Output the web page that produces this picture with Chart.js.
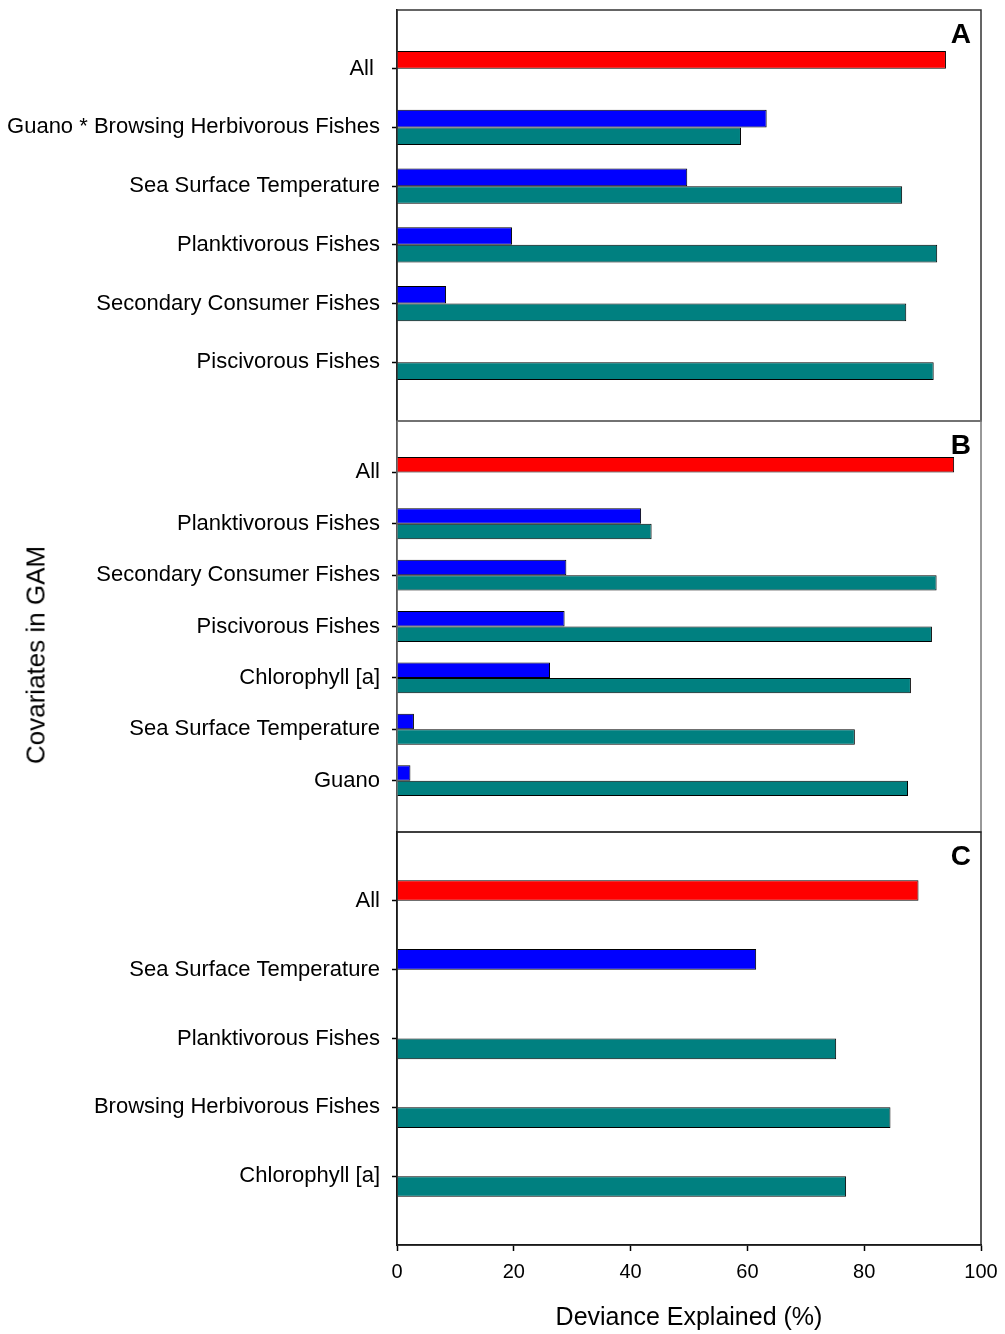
<!DOCTYPE html>
<html>
<head>
<meta charset="utf-8">
<title>Deviance explained by GAM covariates</title>
<script src="https://cdn.jsdelivr.net/npm/chart.js@4.4.1/dist/chart.umd.min.js"></script>
<style>
  html, body { margin: 0; padding: 0; background: #ffffff; }
  #wrap { position: relative; width: 1005px; height: 1334px; overflow: hidden; background: #fff; }
  #wrap canvas { position: absolute; left: 0; }
  #ytitle {
    position: absolute; left: 36px; top: 655px;
    transform: translate(-50%, -50%) rotate(-90deg);
    white-space: nowrap;
    font-family: "Liberation Sans", Arial, sans-serif;
    font-size: 26px; color: #000;
  }
</style>
</head>
<body>
<div id="wrap">
  <canvas id="panelA" width="1005" height="430" style="top:0px"></canvas>
  <canvas id="panelB" width="1005" height="430" style="top:411px"></canvas>
  <canvas id="panelC" width="1005" height="512" style="top:822px"></canvas>
  <div id="ytitle">Covariates in GAM</div>
</div>
<script>
// Panel A
const catsA = ['All ', 'Guano * Browsing Herbivorous Fishes', 'Sea Surface Temperature',
               'Planktivorous Fishes', 'Secondary Consumer Fishes', 'Piscivorous Fishes'];
const aloneA   = [94.0, 63.3, 49.7, 19.7, 8.4, null];
const droppedA = [null, 58.9, 86.5, 92.5, 87.2, 91.9];

// Panel B
const catsB = ['All', 'Planktivorous Fishes', 'Secondary Consumer Fishes', 'Piscivorous Fishes',
               'Chlorophyll [a]', 'Sea Surface Temperature', 'Guano'];
const aloneB   = [95.4, 41.8, 29.0, 28.7, 26.2, 2.9, 2.3];
const droppedB = [null, 43.6, 92.4, 91.6, 88.0, 78.4, 87.5];

// Panel C
const catsC = ['All', 'Sea Surface Temperature', 'Planktivorous Fishes',
               'Browsing Herbivorous Fishes', 'Chlorophyll [a]'];
const aloneC   = [89.3, 61.5, null, null, null];
const droppedC = [null, null, 75.2, 84.5, 76.9];

const xTicks = [0, 20, 40, 60, 80, 100];
const xTitle = 'Deviance Explained (%)';

const RED = '#ff0000', BLUE = '#0000ff', TEAL = '#008080';
const FONT = '"Liberation Sans", Arial, sans-serif';

Chart.defaults.color = '#000';
Chart.defaults.font.family = FONT;

// Box round the plot area plus the panel letter in its top-right corner
const panelFrame = {
  id: 'panelFrame',
  afterDraw(chart, args, opts) {
    const { ctx, chartArea: { left, top, right, bottom } } = chart;
    ctx.save();
    ctx.strokeStyle = opts.color;
    ctx.lineWidth = 1.5;
    ctx.strokeRect(left, top, right - left, bottom - top);
    ctx.fillStyle = '#000';
    ctx.font = 'bold 28px ' + FONT;
    ctx.textAlign = 'right';
    ctx.textBaseline = 'top';
    ctx.fillText(opts.letter, right - 10, top + 11);
    ctx.restore();
  }
};

// blank slots at both ends leave a full category of space above and below
function pad(arr, fill) { return [fill, ...arr, fill]; }

function makePanel(id, cats, alone, dropped, letter, frameColor, withXAxis) {
  const labels = pad(cats, '');
  const aloneColors = pad(cats.map((c, i) => i === 0 ? RED : BLUE), BLUE);
  return new Chart(document.getElementById(id), {
    type: 'bar',
    data: {
      labels,
      datasets: [
        { data: pad(alone, null), backgroundColor: aloneColors, borderColor: '#000', borderWidth: 1 },
        { data: pad(dropped, null), backgroundColor: TEAL, borderColor: '#000', borderWidth: 1 }
      ]
    },
    options: {
      indexAxis: 'y',
      responsive: false,
      animation: false,
      events: [],
      categoryPercentage: 0.6,
      barPercentage: 1.0,
      layout: { padding: { top: 10, bottom: withXAxis ? 0 : 9, left: 0, right: 24 } },
      plugins: {
        legend: { display: false },
        tooltip: { enabled: false },
        panelFrame: { letter, color: frameColor }
      },
      scales: {
        y: {
          type: 'category',
          offset: false,
          afterFit(s) { s.width = 397; s.paddingTop = 0; s.paddingBottom = 0; },
          grid: {
            offset: false,
            drawOnChartArea: false,
            drawTicks: true,
            tickLength: 5,
            tickColor: (ctx) => (ctx.tick && ctx.tick.label === '') ? 'rgba(0,0,0,0)' : '#000',
            tickWidth: 1.5
          },
          border: { display: true, color: '#000', width: 1.5 },
          ticks: { autoSkip: false, padding: 12, font: { size: 22 }, color: '#000' }
        },
        x: {
          type: 'linear',
          min: xTicks[0],
          max: xTicks[xTicks.length - 1],
          display: withXAxis,
          afterFit(s) { if (withXAxis) { s.height = 89; s.paddingLeft = 0; s.paddingRight = 0; } },
          afterBuildTicks(s) { s.ticks = xTicks.map(v => ({ value: v })); },
          grid: { drawOnChartArea: false, drawTicks: true, tickLength: 6, tickColor: '#000', tickWidth: 1.5 },
          border: { display: true, color: '#000', width: 1.5 },
          ticks: { padding: 9, font: { size: 20 }, color: '#000' },
          title: { display: true, text: xTitle, font: { size: 25 }, color: '#000', padding: { top: 0, bottom: 1 } }
        }
      }
    },
    plugins: [panelFrame]
  });
}

makePanel('panelA', catsA, aloneA, droppedA, 'A', '#333', false);
makePanel('panelB', catsB, aloneB, droppedB, 'B', '#777', false);
makePanel('panelC', catsC, aloneC, droppedC, 'C', '#222', true);
</script>
</body>
</html>
